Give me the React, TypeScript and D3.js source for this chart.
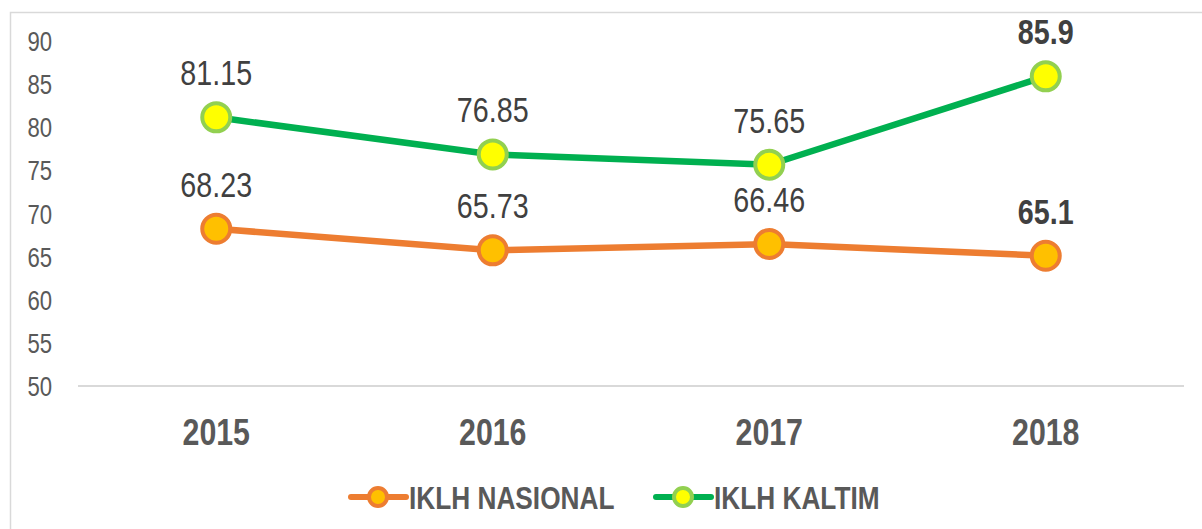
import React from "react";
import * as d3 from "d3";

const years = ["2015", "2016", "2017", "2018"];
const nasional = [68.23, 65.73, 66.46, 65.1];
const kaltim = [81.15, 76.85, 75.65, 85.9];
const yTicks = [50, 55, 60, 65, 70, 75, 80, 85, 90];
const seriesNames = ["IKLH NASIONAL", "IKLH KALTIM"];

const FONT = "'Liberation Sans', Arial, sans-serif";
const SX = 0.82;

function NText(props: { x: number; y: number; anchor?: string; size: number; bold?: boolean; fill: string; children: any }) {
  const { x, y, anchor = "start", size, bold, fill, children } = props;
  return (
    <text transform={`translate(${x},${y}) scale(${SX},1)`} textAnchor={anchor} fontSize={size}
      fontWeight={bold ? "bold" : "normal"} fill={fill}>{children}</text>
  );
}

export default function App() {
  const W = 1202, H = 529;
  const x = d3.scalePoint<string>().domain(years).range([78, 1184]).padding(0.5);
  const y = d3.scaleLinear().domain([50, 90]).range([386, 41]);
  const line = d3.line<number>().x((_, i) => x(years[i]) as number).y((d) => y(d));

  const series = [
    { name: seriesNames[0], data: nasional, line: "#ED7D31", stroke: "#ED7D31", fill: "#FFC000" },
    { name: seriesNames[1], data: kaltim, line: "#00B050", stroke: "#92D050", fill: "#FFFF00" },
  ];

  const legendItems = [
    { s: series[0], x0: 351 },
    { s: series[1], x0: 656 },
  ];

  return (
    <svg width={W} height={H} style={{ position: "absolute", left: 0, top: 0, background: "#fff" }} fontFamily={FONT}>
      <rect x={10.5} y={12.5} width={1200} height={530} fill="#fff" stroke="#D9D9D9" strokeWidth={1.5} />
      {yTicks.map((t) => (
        <NText key={t} x={52} y={y(t) + 10} anchor="end" size={27} fill="#595959">{t}</NText>
      ))}
      <line x1={78} x2={1184} y1={y(50)} y2={y(50)} stroke="#D9D9D9" strokeWidth={2} />
      {years.map((yr) => (
        <NText key={yr} x={x(yr) as number} y={445} anchor="middle" size={37} bold fill="#595959">{yr}</NText>
      ))}
      {series.map((s) => (
        <g key={s.name}>
          <path d={line(s.data) || ""} fill="none" stroke={s.line} strokeWidth={6.5} strokeLinejoin="round" strokeLinecap="round" />
          {s.data.map((v, i) => (
            <circle key={i} cx={x(years[i])} cy={y(v)} r={14} fill={s.fill} stroke={s.stroke} strokeWidth={4} />
          ))}
          {s.data.map((v, i) => (
            <NText key={"l" + i} x={x(years[i]) as number} y={y(v) - 32} anchor="middle" size={35}
              bold={i === years.length - 1} fill="#404040">{v}</NText>
          ))}
        </g>
      ))}
      {legendItems.map(({ s, x0 }) => (
        <g key={s.name}>
          <line x1={x0} x2={x0 + 55} y1={497} y2={497} stroke={s.line} strokeWidth={6} strokeLinecap="round" />
          <circle cx={x0 + 27} cy={497} r={9} fill={s.fill} stroke={s.stroke} strokeWidth={4} />
          <NText x={x0 + 58} y={509} size={32} bold fill="#595959">{s.name}</NText>
        </g>
      ))}
    </svg>
  );
}
